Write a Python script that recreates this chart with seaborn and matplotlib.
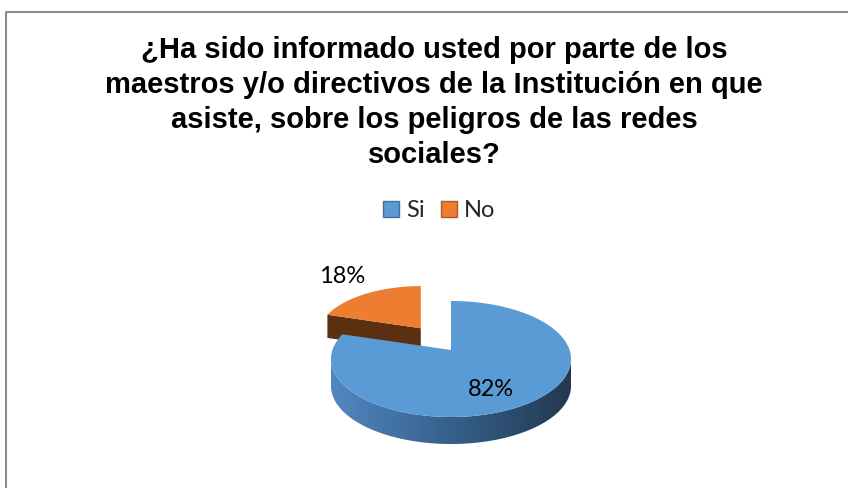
import numpy as np
import matplotlib
matplotlib.use('Agg')
import matplotlib.pyplot as plt
from matplotlib.patches import Polygon, Patch
from matplotlib.colors import LinearSegmentedColormap
import seaborn as sns

# data
labels = ['Si', 'No']
values = [82, 18]
top_colors = ['#5b9bd5', '#ed7d31']
side_colors = [['#5287c1', '#36608a', '#223950'], ['#6b3a17', '#5a3011']]
title_lines = ['¿Ha sido informado usted por parte de los',
               'maestros y/o directivos de la Institución en que',
               'asiste, sobre los peligros de las redes',
               'sociales?']

sns.set_theme(style='white')
plt.rcParams['font.family'] = ['Lato', 'DejaVu Sans']

fig = plt.figure(figsize=(8.48, 4.88), dpi=100)
ax = fig.add_axes([0, 0, 1, 1])
ax.set_xlim(0, 848)
ax.set_ylim(488, 0)
ax.axis('off')

# chart frame (left and top edges visible)
ax.plot([6, 6, 848], [488, 12, 12], color='#8c8c8c', lw=1.5, solid_capstyle='butt')

# title
for i, line in enumerate(title_lines):
    ax.text(434, 58 + 35 * i, line, ha='center', va='baseline', fontsize=21,
            fontweight='bold', family='Liberation Sans', color='black')

# pie geometry (pixel units)
cx, cy = 451, 359
rx, ry = 120, 58
depth = 27
lift = 9          # perspective: apex sits a bit above ellipse centre
explode = [0, 0.47]
scale = [1.0, 0.86]
label_r = [0.62, 1.42]

fracs = np.array(values) / sum(values)
ends = 90 - 360 * np.cumsum(fracs)
starts = ends + 360 * fracs

slices = []
for i in range(len(values)):
    mid = np.radians((starts[i] + ends[i]) / 2)
    ox = explode[i] * rx * np.cos(mid)
    oy = -explode[i] * ry * np.sin(mid)
    slices.append(dict(i=i, mid=mid, c=(cx + ox, cy + oy),
                       a=rx * scale[i], b=ry * scale[i], d=depth * scale[i]))

# back slices first
order = sorted(slices, key=lambda s: -np.sin(s['mid']))
for s in order:
    i = s['i']
    sx, sy = s['c']
    a, b, d = s['a'], s['b'], s['d']
    ax_pt = (sx, sy - lift * scale[i])
    t = np.radians(np.linspace(ends[i], starts[i], 400))
    px = sx + a * np.cos(t)
    py = sy - b * np.sin(t)

    # radial faces
    for ang, nrm in [(starts[i], starts[i] + 90), (ends[i], ends[i] - 90)]:
        if np.sin(np.radians(nrm)) < -1e-6:
            ex = sx + a * np.cos(np.radians(ang))
            ey = sy - b * np.sin(np.radians(ang))
            face = Polygon([ax_pt, (ex, ey), (ex, ey + d), (ax_pt[0], ax_pt[1] + d)],
                           closed=True, facecolor=side_colors[i][-1], edgecolor='none', zorder=2)
            ax.add_patch(face)

    # outer front side with horizontal shading
    vis = np.sin(t) <= 0
    if vis.sum() > 1:
        vx, vy = px[vis], py[vis]
        side_xy = np.concatenate([np.column_stack([vx, vy]),
                                  np.column_stack([vx[::-1], vy[::-1] + d])])
        side = Polygon(side_xy, closed=True, facecolor='none', edgecolor='none')
        ax.add_patch(side)
        cmap = LinearSegmentedColormap.from_list('side%d' % i, side_colors[i])
        grad = np.linspace(0, 1, 256).reshape(1, -1)
        im = ax.imshow(grad, cmap=cmap, aspect='auto', zorder=2,
                       extent=[vx.min(), vx.max(), vy.max() + d, vy.min()])
        im.set_clip_path(side)

    # top surface
    top_xy = np.concatenate([[ax_pt], np.column_stack([px, py])])
    ax.add_patch(Polygon(top_xy, closed=True, facecolor=top_colors[i],
                         edgecolor='none', zorder=3))

    # data label
    lx = sx + label_r[i] * a * np.cos(s['mid'])
    ly = sy - label_r[i] * b * np.sin(s['mid'])
    ax.text(lx, ly, f'{values[i]}%', ha='center', va='center', fontsize=17,
            color='black', zorder=5)

ax.set_xlim(0, 848)
ax.set_ylim(488, 0)

# legend
handles = [Patch(facecolor=top_colors[i], edgecolor='#41719c' if i == 0 else '#ae5a21',
                 label=labels[i]) for i in range(len(labels))]
ax.legend(handles=handles, loc='center', bbox_to_anchor=(0.518, 0.568), ncol=2,
          frameon=False, fontsize=17, handlelength=0.66, handleheight=0.66,
          handletextpad=0.3, columnspacing=0.7, borderpad=0)

fig.savefig('out.png', dpi=100)
